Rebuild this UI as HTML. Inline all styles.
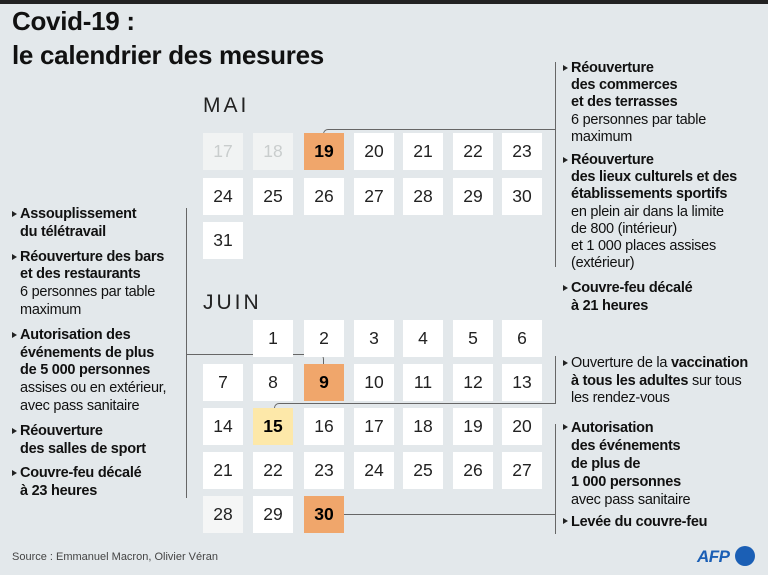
<!DOCTYPE html>
<html><head><meta charset="utf-8"><style>
*{margin:0;padding:0;box-sizing:border-box}
body{width:768px;height:575px;background:#e3e8eb;position:relative;overflow:hidden;font-family:"Liberation Sans",sans-serif;color:#111}
.topbar{position:absolute;left:0;top:0;width:768px;height:4px;background:#222}
h1{position:absolute;left:12px;top:4px;font-size:26px;line-height:34px;font-weight:bold;letter-spacing:-0.3px}
.c{position:absolute;width:40px;height:37px;background:#fff;font-size:17.5px;line-height:37px;text-align:center;color:#222}
.g{background:#f1f3f3;color:#c9cdcd}
.o{background:#f0a66b;font-weight:bold;color:#000}
.y{background:#fde8a9;font-weight:bold;color:#000}
.m{position:absolute;font-size:21px;letter-spacing:3px;color:#222}
.t{position:absolute;font-size:14.5px;line-height:17.2px;color:#111;letter-spacing:-0.25px}
.t b{font-weight:bold}
.it{position:relative;padding-left:8px}
.it:before{content:"";position:absolute;left:0;top:5px;border-left:5px solid #222;border-top:3px solid transparent;border-bottom:3px solid transparent}
.ln{position:absolute;background:#666}
.src{position:absolute;left:12px;top:551px;font-size:11px;color:#444}
</style></head><body>
<div class="topbar"></div>
<h1>Covid-19 :<br>le calendrier des mesures</h1>
<div class="m" style="left:203px;top:94px">MAI</div>
<div class="m" style="left:203px;top:291px">JUIN</div>

<div class="ln" style="left:555px;top:62px;width:1px;height:205px"></div>
<div class="ln" style="left:328px;top:129px;width:228px;height:1px"></div>
<div style="position:absolute;left:323px;top:129px;width:6px;height:6px;border-left:1px solid #666;border-top:1px solid #666;border-top-left-radius:5px"></div>
<div class="ln" style="left:186px;top:208px;width:1px;height:290px"></div>
<div class="ln" style="left:186px;top:354px;width:133px;height:1px"></div>
<div style="position:absolute;left:318px;top:354px;width:6px;height:11px;border-right:1px solid #666;border-top:1px solid #666;border-top-right-radius:5px"></div>
<div class="ln" style="left:555px;top:356px;width:1px;height:48px"></div>
<div class="ln" style="left:279px;top:403px;width:277px;height:1px"></div>
<div style="position:absolute;left:274px;top:403px;width:6px;height:6px;border-left:1px solid #666;border-top:1px solid #666;border-top-left-radius:5px"></div>
<div class="ln" style="left:555px;top:424px;width:1px;height:110px"></div>
<div class="ln" style="left:344px;top:514px;width:211px;height:1px"></div>

<div class="c g" style="left:203px;top:133px">17</div>
<div class="c g" style="left:253px;top:133px">18</div>
<div class="c o" style="left:304px;top:133px">19</div>
<div class="c" style="left:354px;top:133px">20</div>
<div class="c" style="left:403px;top:133px">21</div>
<div class="c" style="left:453px;top:133px">22</div>
<div class="c" style="left:502px;top:133px">23</div>
<div class="c" style="left:203px;top:178px">24</div>
<div class="c" style="left:253px;top:178px">25</div>
<div class="c" style="left:304px;top:178px">26</div>
<div class="c" style="left:354px;top:178px">27</div>
<div class="c" style="left:403px;top:178px">28</div>
<div class="c" style="left:453px;top:178px">29</div>
<div class="c" style="left:502px;top:178px">30</div>
<div class="c" style="left:203px;top:222px">31</div>

<div class="c" style="left:253px;top:320px">1</div>
<div class="c" style="left:304px;top:320px">2</div>
<div class="c" style="left:354px;top:320px">3</div>
<div class="c" style="left:403px;top:320px">4</div>
<div class="c" style="left:453px;top:320px">5</div>
<div class="c" style="left:502px;top:320px">6</div>
<div class="c" style="left:203px;top:364px">7</div>
<div class="c" style="left:253px;top:364px">8</div>
<div class="c o" style="left:304px;top:364px">9</div>
<div class="c" style="left:354px;top:364px">10</div>
<div class="c" style="left:403px;top:364px">11</div>
<div class="c" style="left:453px;top:364px">12</div>
<div class="c" style="left:502px;top:364px">13</div>
<div class="c" style="left:203px;top:408px">14</div>
<div class="c y" style="left:253px;top:408px">15</div>
<div class="c" style="left:304px;top:408px">16</div>
<div class="c" style="left:354px;top:408px">17</div>
<div class="c" style="left:403px;top:408px">18</div>
<div class="c" style="left:453px;top:408px">19</div>
<div class="c" style="left:502px;top:408px">20</div>
<div class="c" style="left:203px;top:452px">21</div>
<div class="c" style="left:253px;top:452px">22</div>
<div class="c" style="left:304px;top:452px">23</div>
<div class="c" style="left:354px;top:452px">24</div>
<div class="c" style="left:403px;top:452px">25</div>
<div class="c" style="left:453px;top:452px">26</div>
<div class="c" style="left:502px;top:452px">27</div>
<div class="c" style="left:203px;top:496px;background:#f5f6f6">28</div>
<div class="c" style="left:253px;top:496px">29</div>
<div class="c o" style="left:304px;top:496px">30</div>

<div class="t" style="left:12px;top:206px;width:180px;line-height:17.8px">
<div class="it"><b>Assouplissement<br>du télétravail</b></div>
<div class="it" style="margin-top:7px"><b>Réouverture des bars<br>et des restaurants</b><br>6 personnes par table<br>maximum</div>
<div class="it" style="margin-top:7px"><b>Autorisation des<br>événements de plus<br>de 5 000 personnes</b><br>assises ou en extérieur,<br>avec pass sanitaire</div>
<div class="it" style="margin-top:7px"><b>Réouverture<br>des salles de sport</b></div>
<div class="it" style="margin-top:7px"><b>Couvre-feu décalé<br>à 23 heures</b></div>
</div>

<div class="t" style="left:563px;top:60px;width:205px">
<div class="it"><b>Réouverture<br>des commerces<br>et des terrasses</b><br>6 personnes par table<br>maximum</div>
<div class="it" style="margin-top:6px"><b>Réouverture<br>des lieux culturels et des<br>établissements sportifs</b><br>en plein air dans la limite<br>de 800 (intérieur)<br>et 1 000 places assises<br>(extérieur)</div>
<div class="it" style="margin-top:8px"><b>Couvre-feu décalé<br>à 21 heures</b></div>
</div>
<div class="t" style="left:563px;top:355px;width:205px;line-height:17.6px">
<div class="it">Ouverture de la <b>vaccination<br>à tous les adultes</b> sur tous<br>les rendez-vous</div>
</div>
<div class="t" style="left:563px;top:419px;width:205px;line-height:18px">
<div class="it"><b>Autorisation<br>des événements<br>de plus de<br>1 000 personnes</b><br>avec pass sanitaire</div>
<div class="it" style="margin-top:4px"><b>Levée du couvre-feu</b></div>
</div>

<div class="src">Source : Emmanuel Macron, Olivier Véran</div>
<div style="position:absolute;left:697px;top:547px;font-size:17px;font-weight:bold;font-style:italic;color:#1b5fb5;letter-spacing:-0.5px">AFP</div>
<div style="position:absolute;left:735px;top:546px;width:20px;height:20px;border-radius:50%;background:#1b5fb5"></div>
</body></html>
